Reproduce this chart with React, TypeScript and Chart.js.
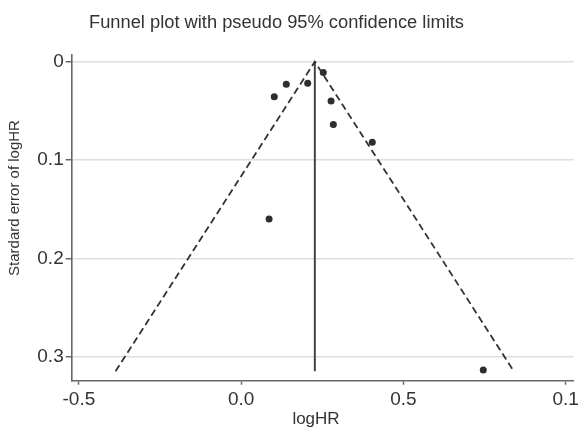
import React, { useEffect, useRef } from "react";
import { Chart, registerables } from "chart.js";

Chart.register(...registerables);

// Study estimates
const logHR = [0.253, 0.139, 0.205, 0.102, 0.277, 0.284, 0.404, 0.086, 0.746];
const seLogHR = [0.011, 0.023, 0.022, 0.0356, 0.04, 0.064, 0.082, 0.16, 0.3136];

// Pseudo 95% confidence limits (funnel) and pooled estimate line
const funnelX = [-0.387, 0.227, 0.84];
const funnelY = [0.3147, 0, 0.3147];
const pooledX = [0.227, 0.227];
const pooledY = [0, 0.3147];

// Axis ticks
const xTicks = [-0.5, 0, 0.5, 1.0];
const xTickLabels = ["-0.5", "0.0", "0.5", "0.1"];
const yTicks = [0, 0.1, 0.2, 0.3];
const yTickLabels = ["0", "0.1", "0.2", "0.3"];

const titleText = "Funnel plot with pseudo 95% confidence limits";
const xTitle = "logHR";
const yTitle = "Stardard error of logHR";

const FONT = "'Liberation Sans', Arial, sans-serif";

export default function App() {
  const ref = useRef<HTMLCanvasElement | null>(null);

  useEffect(() => {
    document.body.style.margin = "0";
    const canvas = ref.current;
    if (!canvas) return;

    const textPlugin = {
      id: "textPlugin",
      afterDraw(chart: any) {
        const ctx = chart.ctx;
        ctx.save();
        ctx.fillStyle = "#333";
        ctx.textAlign = "center";
        ctx.textBaseline = "alphabetic";
        ctx.font = `18.3px ${FONT}`;
        ctx.fillText(titleText, 276.5, 28);
        ctx.font = `17px ${FONT}`;
        ctx.fillText(xTitle, 316, 423.5);
        ctx.translate(19, 198);
        ctx.rotate(-Math.PI / 2);
        ctx.font = `15px ${FONT}`;
        ctx.fillText(yTitle, 0, 0);
        ctx.restore();
      },
    };

    const chart = new Chart(canvas, {
      type: "scatter",
      data: {
        datasets: [
          {
            label: "funnel",
            data: funnelX.map((x, i) => ({ x, y: funnelY[i] })),
            showLine: true,
            borderColor: "#333",
            borderWidth: 1.8,
            borderDash: [7, 4],
            pointRadius: 0,
            fill: false,
          },
          {
            label: "pooled",
            data: pooledX.map((x, i) => ({ x, y: pooledY[i] })),
            showLine: true,
            borderColor: "#444",
            borderWidth: 2,
            pointRadius: 0,
            fill: false,
          },
          {
            label: "studies",
            data: logHR.map((x, i) => ({ x, y: seLogHR[i] })),
            pointRadius: 3.5,
            pointBackgroundColor: "#2e2e2e",
            pointBorderColor: "#2e2e2e",
            pointBorderWidth: 0,
          },
        ],
      },
      options: {
        animation: false,
        responsive: false,
        devicePixelRatio: 1,
        layout: { padding: { top: 55, right: 6, left: 0, bottom: 0 } },
        plugins: {
          legend: { display: false },
          tooltip: { enabled: false },
          title: { display: false },
        },
        scales: {
          x: {
            type: "linear",
            min: -0.5222,
            max: 1.0245,
            afterBuildTicks: (scale: any) => {
              scale.ticks = xTicks.map((v) => ({ value: v }));
            },
            afterFit: (scale: any) => {
              scale.height = 46.3;
            },
            ticks: {
              callback: (_v: any, i: number) => xTickLabels[i],
              font: { size: 19, family: FONT },
              color: "#333",
              padding: 4,
              maxRotation: 0,
              autoSkip: false,
            },
            grid: {
              drawOnChartArea: false,
              drawTicks: true,
              tickLength: 4,
              tickColor: "#666",
              tickWidth: 1.5,
            },
            border: { display: true, color: "#666", width: 1.6 },
          },
          y: {
            type: "linear",
            reverse: true,
            min: -0.0068,
            max: 0.3244,
            afterBuildTicks: (scale: any) => {
              scale.ticks = yTicks.map((v) => ({ value: v }));
            },
            afterFit: (scale: any) => {
              scale.width = 71.7;
            },
            ticks: {
              callback: (_v: any, i: number) => yTickLabels[i],
              font: { size: 19, family: FONT },
              color: "#333",
              padding: 2,
              autoSkip: false,
            },
            grid: {
              color: "#dedede",
              lineWidth: 1.5,
              drawTicks: true,
              tickLength: 6,
              tickColor: "#666",
              tickWidth: 1.5,
            },
            border: { display: true, color: "#666", width: 1.6 },
          },
        },
      },
      plugins: [textPlugin],
    } as any);

    return () => chart.destroy();
  }, []);

  return (
    <div style={{ width: 583, height: 427, background: "#fff" }}>
      <canvas ref={ref} width={583} height={427} />
    </div>
  );
}
